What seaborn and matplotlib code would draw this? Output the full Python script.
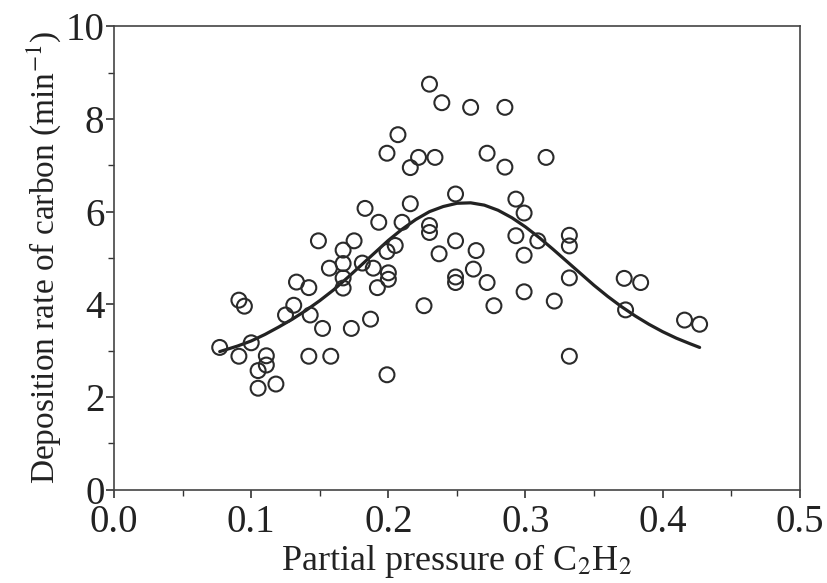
import seaborn as sns
import matplotlib.pyplot as plt
import pandas as pd
from matplotlib.ticker import MultipleLocator

# measured points
pressure = [0.077, 0.091, 0.095, 0.091, 0.100, 0.111, 0.111, 0.105, 0.105, 0.118,
            0.133, 0.142, 0.131, 0.125, 0.143, 0.152, 0.142, 0.158, 0.173, 0.187,
            0.149, 0.175, 0.167, 0.167, 0.167, 0.167, 0.157, 0.181, 0.189, 0.192,
            0.200, 0.200, 0.183, 0.193, 0.199, 0.205, 0.210, 0.216, 0.207, 0.199,
            0.222, 0.216, 0.234, 0.230, 0.239, 0.260, 0.285, 0.272, 0.285, 0.315,
            0.249, 0.293, 0.299, 0.230, 0.230, 0.249, 0.264, 0.237, 0.262, 0.249,
            0.249, 0.272, 0.293, 0.299, 0.309, 0.299, 0.277, 0.226, 0.199, 0.332,
            0.332, 0.332, 0.321, 0.332, 0.372, 0.384, 0.373, 0.416, 0.427]
rate = [3.07, 4.09, 3.96, 2.88, 3.17, 2.89, 2.69, 2.57, 2.19, 2.28,
        4.48, 4.36, 3.98, 3.77, 3.77, 3.48, 2.88, 2.88, 3.48, 3.68,
        5.37, 5.37, 5.17, 4.88, 4.57, 4.35, 4.78, 4.89, 4.78, 4.36,
        4.68, 4.54, 6.07, 5.77, 5.14, 5.27, 5.77, 6.17, 7.66, 7.26,
        7.17, 6.95, 7.17, 8.75, 8.35, 8.25, 8.25, 7.26, 6.96, 7.17,
        6.38, 6.27, 5.97, 5.70, 5.55, 5.37, 5.16, 5.09, 4.76, 4.59,
        4.47, 4.47, 5.48, 5.06, 5.37, 4.27, 3.97, 3.97, 2.48, 5.49,
        5.26, 4.57, 4.07, 2.88, 4.56, 4.47, 3.88, 3.66, 3.57]

# fitted curve
fit_x = [0.077, 0.09, 0.10, 0.11, 0.12, 0.13, 0.14, 0.15, 0.16, 0.17,
         0.18, 0.19, 0.20, 0.21, 0.22, 0.23, 0.24, 0.25, 0.26, 0.27,
         0.28, 0.29, 0.30, 0.31, 0.32, 0.33, 0.34, 0.35, 0.36, 0.37,
         0.38, 0.39, 0.40, 0.41, 0.42, 0.427]
fit_y = [2.98, 3.10, 3.21, 3.35, 3.51, 3.68, 3.87, 4.08, 4.31, 4.57,
         4.84, 5.11, 5.38, 5.62, 5.83, 6.00, 6.11, 6.18, 6.19, 6.14,
         6.03, 5.87, 5.67, 5.44, 5.19, 4.93, 4.67, 4.41, 4.17, 3.95,
         3.75, 3.57, 3.41, 3.27, 3.15, 3.07]

sns.set_theme(style="ticks")
plt.rcParams['font.family'] = ['Liberation Serif', 'DejaVu Serif']
plt.rcParams['mathtext.fontset'] = 'stix'

pts = pd.DataFrame({"p": pressure, "r": rate})
fit = pd.DataFrame({"p": fit_x, "r": fit_y})

fig = plt.figure(figsize=(8.27, 5.83), dpi=100)
ax = fig.add_axes([0.138, 0.160, 0.829, 0.795])

sns.lineplot(data=fit, x="p", y="r", ax=ax, color="#222222", lw=2.3, sort=True)
sns.scatterplot(data=pts, x="p", y="r", ax=ax, marker="o", s=115,
                facecolor="none", edgecolor="#2a2a2a", linewidth=1.5, zorder=3)

ax.set_xlim(0, 0.5)
ax.set_ylim(0, 10)
ax.xaxis.set_major_locator(MultipleLocator(0.1))
ax.xaxis.set_minor_locator(MultipleLocator(0.05))
ax.yaxis.set_major_locator(MultipleLocator(2))
ax.yaxis.set_minor_locator(MultipleLocator(1))
ax.xaxis.set_major_formatter(plt.FuncFormatter(lambda v, _: f"{v:.1f}"))
ax.tick_params(which="major", direction="out", length=6, width=1.2,
               labelsize=28, colors="#333333", labelcolor="#222222", pad=1)
ax.tick_params(axis="x", which="major", pad=4)
ax.tick_params(which="minor", direction="out", length=4, width=1.0, colors="#333333")
for s in ax.spines.values():
    s.set_color("#444444")
    s.set_linewidth(1.2)

ax.set_xlabel("Partial pressure of C$_2$H$_2$", fontsize=26, color="#222222", labelpad=1)
ax.set_ylabel("Deposition rate of carbon (min$^{-1}$)", fontsize=24, color="#222222", labelpad=2)

fig.savefig("out.png", dpi=100)
